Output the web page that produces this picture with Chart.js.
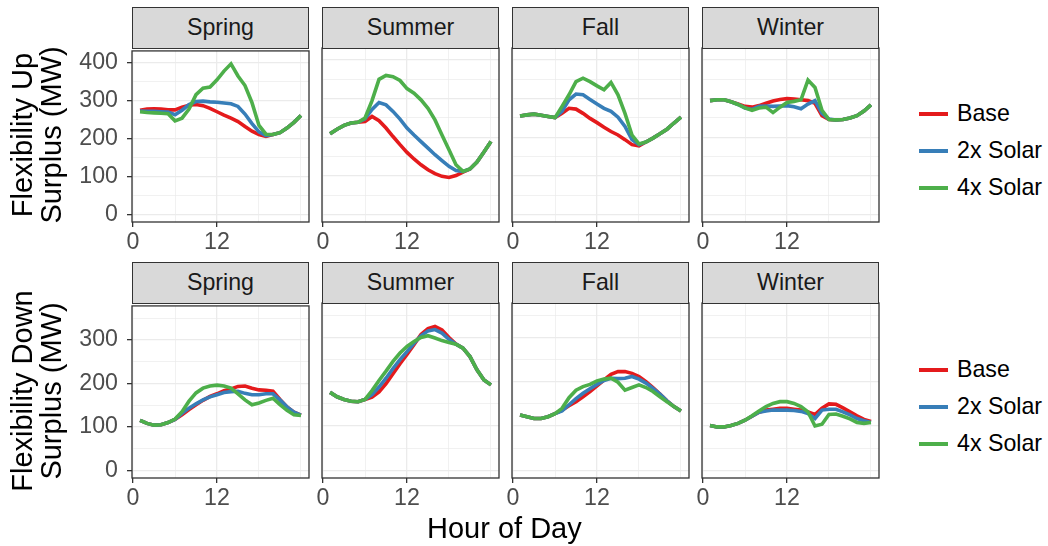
<!DOCTYPE html>
<html>
<head>
<meta charset="utf-8">
<script src="https://cdn.jsdelivr.net/npm/chart.js@4/dist/chart.umd.min.js"></script>
<style>
  body { margin: 0; background: #fff; }
  #wrap { position: relative; width: 1048px; height: 546px; overflow: hidden; font-family: "Liberation Sans", Arial, sans-serif; }
  canvas, .strip, .ytitle, .xtitle, .legend { position: absolute; }
  .strip { box-sizing: border-box; background: #D9D9D9; border: 1.3px solid #333; color: #1A1A1A;
           font-size: 23.2px; text-align: center; line-height: 39px; }
  .ytitle { font-size: 29px; line-height: 29px; text-align: center; color: #000; transform: rotate(-90deg); white-space: nowrap; }
  .xtitle { font-size: 29px; color: #000; }
  .legend .item { position: absolute; font-size: 23.2px; color: #000; white-space: nowrap; }
  .legend .key { position: absolute; width: 29px; height: 4px; }
</style>
</head>
<body>
<div id="wrap"></div>
<script>
// hours of day shared by every panel
const hours = [1, 2, 3, 4, 5, 6, 7, 8, 9, 10, 11, 12, 13, 14, 15, 16, 17, 18, 19, 20, 21, 22, 23, 24];
const seasons = ['Spring', 'Summer', 'Fall', 'Winter'];
const scenarioNames = ['Base', '2x Solar', '4x Solar'];
const scenarioColors = ['#E41A1C', '#377EB8', '#4DAF4A'];
const xTickVals = [0, 6, 12, 18, 24];
const xTickLabels = { 0: '0', 12: '12' };
const upTickVals = [0, 50, 100, 150, 200, 250, 300, 350, 400];
const downTickVals = [0, 50, 100, 150, 200, 250, 300, 350];

// flexibility up surplus (MW)
const upSpringBase  = [275, 278, 279, 278, 276, 276, 283, 288, 290, 287, 280, 271, 262, 254, 245, 232, 220, 211, 206, 211, 216, 228, 243, 261];
const upSpring2x    = [273, 272, 272, 271, 270, 263, 275, 290, 298, 299, 297, 296, 294, 292, 285, 265, 240, 218, 208, 211, 216, 228, 243, 261];
const upSpring4x    = [271, 269, 268, 267, 266, 247, 254, 278, 316, 333, 336, 355, 378, 397, 365, 340, 295, 235, 212, 211, 216, 228, 243, 261];
const upSummerBase  = [209, 221, 231, 237, 239, 241, 254, 243, 224, 202, 181, 161, 144, 129, 116, 106, 99, 96, 101, 110, 118, 136, 162, 189];
const upSummer2x    = [209, 221, 231, 237, 239, 248, 272, 290, 284, 267, 247, 224, 206, 189, 172, 155, 140, 125, 114, 112, 118, 136, 162, 189];
const upSummer4x    = [209, 221, 231, 237, 239, 250, 295, 350, 360, 357, 347, 326, 314, 297, 275, 245, 206, 168, 129, 112, 118, 136, 162, 189];
const upFallBase    = [255, 258, 260, 257, 254, 251, 262, 275, 273, 262, 249, 238, 226, 215, 206, 194, 181, 178, 188, 198, 209, 221, 237, 252];
const upFall2x      = [255, 258, 260, 257, 254, 251, 267, 297, 312, 310, 298, 286, 275, 267, 252, 228, 194, 181, 188, 198, 209, 221, 237, 252];
const upFall4x      = [255, 258, 260, 257, 254, 251, 280, 310, 344, 353, 344, 333, 323, 342, 310, 262, 206, 183, 188, 198, 209, 221, 237, 252];
const upWinterBase  = [295, 297, 297, 292, 286, 280, 278, 282, 288, 294, 298, 300, 299, 297, 295, 288, 256, 246, 245, 246, 250, 256, 268, 284];
const upWinter2x    = [295, 297, 297, 292, 285, 276, 272, 280, 281, 280, 281, 282, 279, 274, 286, 295, 262, 247, 245, 246, 250, 256, 268, 284];
const upWinter4x    = [295, 297, 297, 292, 285, 276, 270, 276, 278, 264, 278, 290, 293, 297, 348, 329, 270, 246, 245, 246, 250, 256, 268, 284];

// flexibility down surplus (MW)
const downSpringBase = [115, 108, 104, 105, 110, 117, 128, 140, 151, 161, 170, 176, 183, 187, 193, 194, 189, 185, 184, 182, 163, 146, 134, 127];
const downSpring2x   = [115, 108, 104, 105, 110, 117, 131, 143, 153, 162, 169, 174, 179, 181, 182, 177, 174, 174, 176, 176, 162, 146, 134, 127];
const downSpring4x   = [115, 108, 104, 105, 110, 118, 135, 159, 178, 189, 194, 196, 194, 189, 176, 162, 151, 155, 161, 166, 151, 138, 128, 126];
const downSummerBase = [176, 166, 160, 156, 155, 160, 165, 177, 196, 218, 241, 262, 284, 307, 320, 325, 317, 300, 285, 276, 257, 227, 204, 193];
const downSummer2x   = [176, 166, 160, 156, 155, 160, 171, 188, 208, 230, 250, 268, 287, 304, 315, 318, 310, 296, 285, 276, 257, 227, 204, 193];
const downSummer4x   = [176, 166, 160, 156, 155, 160, 180, 203, 224, 246, 265, 280, 291, 300, 304, 299, 293, 289, 285, 276, 257, 227, 204, 193];
const downFallBase   = [125, 121, 117, 117, 121, 128, 136, 146, 155, 166, 178, 191, 204, 217, 223, 223, 219, 212, 200, 187, 172, 157, 144, 134];
const downFall2x     = [125, 121, 117, 117, 121, 128, 134, 148, 162, 174, 184, 194, 203, 208, 207, 208, 212, 206, 197, 185, 172, 157, 144, 134];
const downFall4x     = [125, 121, 117, 117, 121, 128, 140, 164, 181, 189, 194, 202, 206, 208, 199, 181, 187, 193, 187, 178, 166, 155, 144, 134];
const downWinterBase = [101, 98, 98, 101, 106, 113, 122, 131, 136, 138, 140, 140, 138, 136, 132, 126, 140, 150, 149, 141, 132, 123, 115, 110];
const downWinter2x   = [101, 98, 98, 101, 106, 113, 122, 131, 134, 136, 136, 136, 135, 133, 128, 117, 136, 138, 138, 132, 125, 117, 112, 108];
const downWinter4x   = [101, 98, 98, 101, 106, 113, 123, 134, 144, 151, 155, 155, 151, 144, 132, 100, 104, 126, 127, 122, 116, 108, 106, 108];

const upData = [
  [upSpringBase, upSpring2x, upSpring4x],
  [upSummerBase, upSummer2x, upSummer4x],
  [upFallBase, upFall2x, upFall4x],
  [upWinterBase, upWinter2x, upWinter4x]
];
const downData = [
  [downSpringBase, downSpring2x, downSpring4x],
  [downSummerBase, downSummer2x, downSummer4x],
  [downFallBase, downFall2x, downFall4x],
  [downWinterBase, downWinter2x, downWinter4x]
];

// facet geometry
const colLeft = [132, 322, 512, 702];
const panelW = 177;
const rows = [
  { stripTop: 7, panelTop: 48, panelBottom: 222, yMin: -19, yMax: 431, ticks: upTickVals, data: upData,
    title: ['Flexibility Up', 'Surplus (MW)'], legendTop: 114 },
  { stripTop: 262, panelTop: 303, panelBottom: 478, yMin: -17.5, yMax: 378, ticks: downTickVals, data: downData,
    title: ['Flexibility Down', 'Surplus (MW)'], legendTop: 370 }
];
const axisH = 36;
const padTop = 20; // room above the plot area so edge labels don't push it down
const wrap = document.getElementById('wrap');
const font = "'Liberation Sans', Arial, sans-serif";

const panelBox = {
  id: 'panelBox',
  afterDraw(chart) {
    const a = chart.chartArea, ctx = chart.ctx;
    ctx.save();
    ctx.strokeStyle = '#333333';
    ctx.lineWidth = 1.3;
    ctx.strokeRect(a.left, a.top, a.right - a.left, a.bottom - a.top);
    ctx.restore();
  }
};

function el(tag, cls, css, text) {
  const d = document.createElement(tag);
  if (cls) d.className = cls;
  Object.assign(d.style, css);
  if (text !== undefined) d.textContent = text;
  wrap.appendChild(d);
  return d;
}

rows.forEach((row, r) => {
  const panelH = row.panelBottom - row.panelTop;
  seasons.forEach((season, c) => {
    const padL = c === 0 ? 72 : 14;
    const cv = el('canvas', null, { left: (colLeft[c] - padL) + 'px', top: (row.panelTop - padTop) + 'px' });
    cv.width = padL + panelW + 2;
    cv.height = padTop + panelH + axisH;
    cv.style.width = cv.width + 'px';
    cv.style.height = cv.height + 'px';

    new Chart(cv, {
      type: 'line',
      data: {
        labels: hours,
        datasets: row.data[c].map((vals, i) => ({
          label: scenarioNames[i],
          data: hours.map((h, k) => ({ x: h, y: vals[k] })),
          borderColor: scenarioColors[i],
          borderWidth: 3.6,
          pointRadius: 0,
          tension: 0,
          fill: false,
          order: 2 - i
        }))
      },
      options: {
        responsive: false,
        animation: false,
        layout: { padding: { left: 0, right: 2, top: padTop, bottom: 0 } },
        plugins: { legend: { display: false }, tooltip: { enabled: false } },
        scales: {
          x: {
            type: 'linear', min: -0.15, max: 25.15,
            afterBuildTicks: s => { s.ticks = xTickVals.map(v => ({ value: v })); },
            afterFit: s => { s.height = axisH; },
            border: { display: false },
            grid: {
              color: '#EBEBEB',
              lineWidth: ctx => (ctx.tick && xTickLabels[ctx.tick.value] !== undefined ? 1.3 : 0.7),
              tickColor: ctx => (ctx.tick && xTickLabels[ctx.tick.value] !== undefined ? '#333333' : 'rgba(0,0,0,0)'),
              tickLength: 5,
              tickWidth: 1.3
            },
            ticks: {
              autoSkip: false, maxRotation: 0, padding: 2,
              color: '#4D4D4D', font: { family: font, size: 23.2 },
              callback: v => (xTickLabels[v] !== undefined ? xTickLabels[v] : '')
            }
          },
          y: {
            min: row.yMin, max: row.yMax,
            afterBuildTicks: s => { s.ticks = row.ticks.map(v => ({ value: v })); },
            afterFit: s => { s.width = padL; },
            border: { display: false },
            grid: {
              color: '#EBEBEB',
              lineWidth: ctx => (ctx.tick && ctx.tick.value % 100 === 0 ? 1.3 : 0.7),
              drawTicks: c === 0,
              tickColor: ctx => (ctx.tick && ctx.tick.value % 100 === 0 ? '#333333' : 'rgba(0,0,0,0)'),
              tickLength: 5,
              tickWidth: 1.3
            },
            ticks: {
              display: c === 0, autoSkip: false, padding: 9,
              color: '#4D4D4D', font: { family: font, size: 23.2 },
              callback: v => (v % 100 === 0 ? String(v) : '')
            }
          }
        }
      },
      plugins: [panelBox]
    });

    // strip label drawn after the canvas so it sits on top
    el('div', 'strip', { left: colLeft[c] + 'px', top: row.stripTop + 'px', width: panelW + 'px',
      height: (row.panelTop - row.stripTop + 1) + 'px' }, season);
  });

  // rotated y-axis title
  const tw = 270, th = 58;
  const cy = (row.panelTop + row.panelBottom) / 2;
  const t = el('div', 'ytitle', { left: (37 - tw / 2) + 'px', top: (cy - th / 2) + 'px', width: tw + 'px', height: th + 'px' });
  t.innerHTML = row.title.join('<br>');

  // legend for this row
  const lg = el('div', 'legend', { left: '0px', top: '0px' });
  scenarioNames.forEach((name, i) => {
    const y = row.legendTop + i * 37;
    const k = document.createElement('div');
    k.className = 'key';
    Object.assign(k.style, { left: '919px', top: (y - 2) + 'px', background: scenarioColors[i] });
    lg.appendChild(k);
    const s = document.createElement('div');
    s.className = 'item';
    Object.assign(s.style, { left: '957px', top: (y - 14) + 'px' });
    s.textContent = name;
    lg.appendChild(s);
  });
});

el('div', 'xtitle', { left: '427px', top: '512px' }, 'Hour of Day');
</script>
</body>
</html>
